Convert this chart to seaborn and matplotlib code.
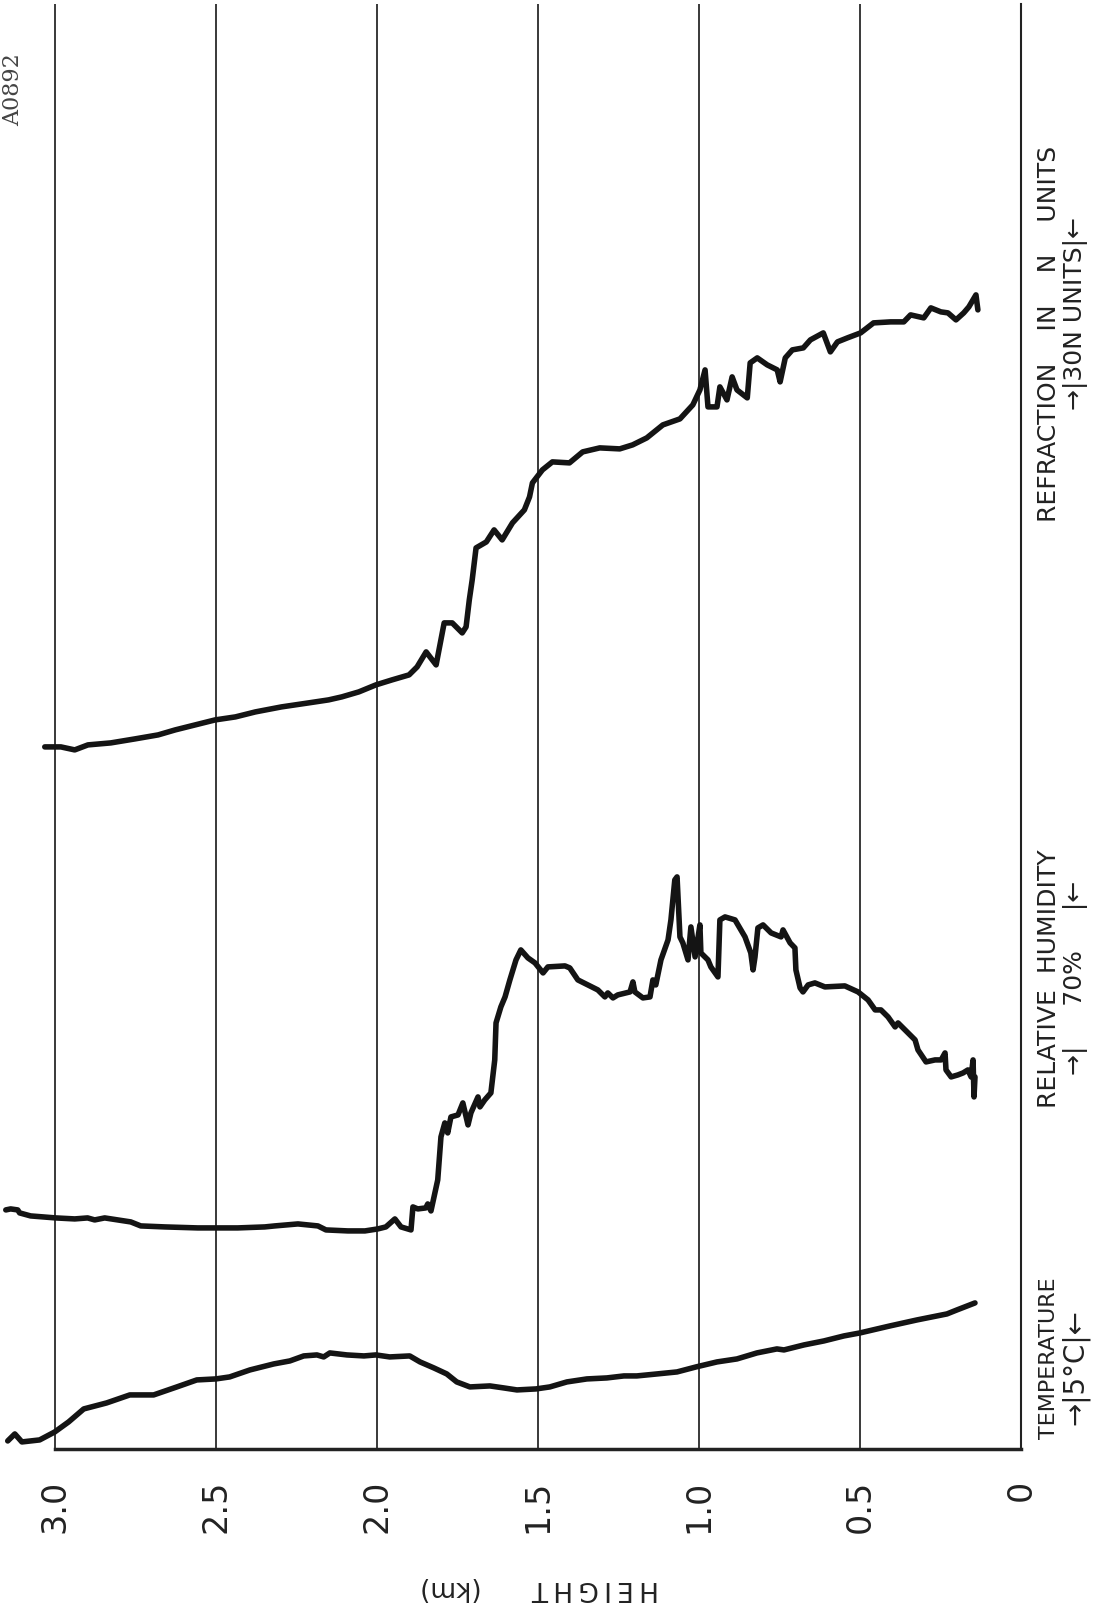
# Radiosonde-style trace chart: temperature, humidity and refraction vs height
# (page is drawn turned on its side, height runs right-to-left along the bottom)

import matplotlib
matplotlib.use('Agg')
import matplotlib.pyplot as plt
import seaborn as sns

# heights (km) and trace deflection (chart units above the base line)
temp_h = [3.146, 3.124, 3.102, 3.047, 3.000, 2.957, 2.910, 2.839, 2.767, 2.693,
          2.621, 2.559, 2.500, 2.457, 2.394, 2.320, 2.270, 2.227, 2.186, 2.165,
          2.146, 2.093, 2.040, 2.003, 1.960, 1.898, 1.866, 1.823, 1.783, 1.752,
          1.711, 1.649, 1.606, 1.565, 1.506, 1.463, 1.410, 1.348, 1.286, 1.233,
          1.193, 1.130, 1.068, 1.009, 0.944, 0.882, 0.820, 0.758, 0.736, 0.674,
          0.612, 0.550, 0.500, 0.407, 0.323, 0.230, 0.199, 0.143]
temp_v = [8, 15, 7, 9, 17, 27, 40, 46, 54, 54,
          62, 69, 70, 72, 79, 85, 88, 93, 94, 92,
          96, 94, 93, 94, 92, 93, 87, 81, 75, 67,
          62, 63, 61, 59, 60, 62, 67, 70, 71, 73,
          73, 75, 77, 82, 87, 90, 96, 100, 99, 104,
          108, 113, 116, 123, 129, 135, 139, 146]

rh_h = [3.152, 3.137, 3.115, 3.109, 3.075, 2.997, 2.938, 2.898, 2.876, 2.845,
        2.804, 2.764, 2.733, 2.658, 2.556, 2.497, 2.432, 2.348, 2.317, 2.245,
        2.183, 2.158, 2.090, 2.037, 1.997, 1.972, 1.944, 1.925, 1.894, 1.888,
        1.873, 1.848, 1.842, 1.832, 1.811, 1.801, 1.789, 1.780, 1.770, 1.748,
        1.733, 1.717, 1.708, 1.686, 1.680, 1.665, 1.646, 1.634, 1.630, 1.615,
        1.602, 1.587, 1.568, 1.553, 1.531, 1.509, 1.484, 1.469, 1.416, 1.401,
        1.376, 1.345, 1.314, 1.292, 1.283, 1.267, 1.252, 1.214, 1.205, 1.199,
        1.174, 1.152, 1.143, 1.134, 1.118, 1.096, 1.087, 1.075, 1.068, 1.059,
        1.050, 1.034, 1.025, 1.012, 0.997, 0.994, 0.972, 0.963, 0.941, 0.935,
        0.919, 0.888, 0.857, 0.839, 0.832, 0.826, 0.817, 0.801, 0.776, 0.745,
        0.739, 0.717, 0.702, 0.699, 0.686, 0.677, 0.661, 0.640, 0.609, 0.547,
        0.506, 0.475, 0.453, 0.435, 0.413, 0.391, 0.382, 0.360, 0.329, 0.320,
        0.295, 0.267, 0.248, 0.236, 0.233, 0.217, 0.196, 0.180, 0.165, 0.155,
        0.149, 0.146, 0.143]
rh_v = [239, 240, 239, 236, 233, 231, 230, 231, 229, 231,
        229, 227, 223, 222, 221, 221, 221, 222, 223, 225,
        223, 219, 218, 218, 220, 222, 230, 222, 219, 242,
        240, 241, 245, 238, 269, 312, 326, 316, 332, 334,
        346, 324, 336, 352, 342, 349, 356, 389, 426, 442,
        452, 469, 489, 499, 491, 486, 476, 482, 483, 481,
        469, 464, 459, 452, 456, 451, 454, 457, 467, 457,
        451, 452, 469, 464, 489, 509, 529, 569, 572, 512,
        506, 489, 522, 492, 524, 496, 489, 482, 472, 529,
        532, 529, 512, 496, 479, 492, 521, 524, 516, 512,
        519, 506, 501, 479, 461, 457, 464, 466, 462, 463,
        457, 449, 439, 439, 432, 422, 426, 419, 409, 399,
        387, 389, 389, 396, 379, 372, 374, 376, 379, 372,
        389, 352, 372]

n_h = [3.031, 2.981, 2.938, 2.897, 2.826, 2.751, 2.679, 2.626, 2.564, 2.502,
       2.439, 2.377, 2.296, 2.212, 2.150, 2.109, 2.056, 2.003, 1.953, 1.900,
       1.875, 1.847, 1.816, 1.791, 1.766, 1.735, 1.723, 1.713, 1.704, 1.692,
       1.660, 1.636, 1.611, 1.579, 1.542, 1.526, 1.517, 1.486, 1.455, 1.402,
       1.361, 1.308, 1.246, 1.206, 1.162, 1.112, 1.059, 1.019, 0.997, 0.981,
       0.972, 0.944, 0.935, 0.913, 0.897, 0.882, 0.850, 0.841, 0.819, 0.788,
       0.757, 0.748, 0.732, 0.710, 0.676, 0.654, 0.614, 0.592, 0.570, 0.539,
       0.498, 0.458, 0.405, 0.364, 0.343, 0.302, 0.280, 0.249, 0.227, 0.202,
       0.178, 0.162, 0.140, 0.134]
n_v = [702, 702, 699, 704, 706, 710, 714, 719, 724, 729,
       732, 737, 742, 746, 749, 752, 757, 764, 769, 774,
       782, 797, 784, 826, 826, 816, 822, 849, 869, 901,
       907, 919, 909, 926, 939, 952, 966, 979, 987, 986,
       997, 1001, 1000, 1004, 1011, 1024, 1030, 1044, 1059, 1079,
       1042, 1042, 1062, 1049, 1072, 1059, 1051, 1086, 1091, 1084,
       1079, 1067, 1091, 1099, 1101, 1109, 1116, 1097, 1107, 1111,
       1116, 1126, 1127, 1127, 1134, 1131, 1141, 1137, 1136, 1129,
       1136, 1142, 1154, 1139]

height_ticks = [3.0, 2.5, 2.0, 1.5, 1.0, 0.5, 0]
height_labels = ['3.0', '2.5', '2.0', '1.5', '1.0', '0.5', '0']

sns.set_theme(style='white')
plt.rcParams['font.family'] = ['DejaVu Sans']

W, H = 1117, 1611
fig = plt.figure(figsize=(W / 100, H / 100), dpi=100)
ax = fig.add_axes([0.0, 0.1006, 0.9141, 0.897])

ink = '#141414'

# vertical height grid
for t in height_ticks[:-1]:
    ax.axvline(t, color='#2a2a2a', lw=1.3, zorder=0)

for h, v in [(temp_h, temp_v), (rh_h, rh_v), (n_h, n_v)]:
    sns.lineplot(x=h, y=v, sort=False, estimator=None, color=ink,
                 lw=4.0, ax=ax, zorder=3)

ax.set_xlim(3.17, 0)
ax.set_ylim(0, 1445)
ax.set_yticks([])
ax.set_xticks(height_ticks)
ax.set_xticklabels(height_labels, rotation=90, fontsize=24, color='#222222')
ax.tick_params(axis='x', length=0, pad=22)

for side in ['left', 'top']:
    ax.spines[side].set_visible(False)
ax.spines['right'].set_color('#222222')
ax.spines['right'].set_linewidth(1.5)
ax.spines['bottom'].set_color('#222222')
ax.spines['bottom'].set_linewidth(2.5)
ax.spines['bottom'].set_bounds(0, 3.0)


def px(x, y):
    return x / W, 1 - y / H


fig.text(*px(540, 1588), 'H\u2009E\u2009I\u2009G\u2009H\u2009T      (km)',
         rotation=180, ha='center', va='center', fontsize=19, color='#222222')

lab = dict(rotation=90, ha='center', va='center', fontsize=18, color='#222222')
fig.text(*px(1049, 1358), 'TEMPERATURE', **dict(lab, fontsize=16))
fig.text(*px(1075, 1367), '→|5°C|←', **dict(lab, fontsize=20))
fig.text(*px(1049, 979), 'RELATIVE  HUMIDITY', **lab)
fig.text(*px(1075, 978), '→|     70%     |←', **lab)
fig.text(*px(1049, 334), 'REFRACTION    IN    N    UNITS', **lab)
fig.text(*px(1075, 313), '→|30N UNITS|←', **lab)
fig.text(*px(13, 90), 'A0892', rotation=90, ha='center', va='center',
         fontsize=16, color='#444444', family='DejaVu Serif')

fig.savefig('out.png', dpi=100, facecolor='white')
